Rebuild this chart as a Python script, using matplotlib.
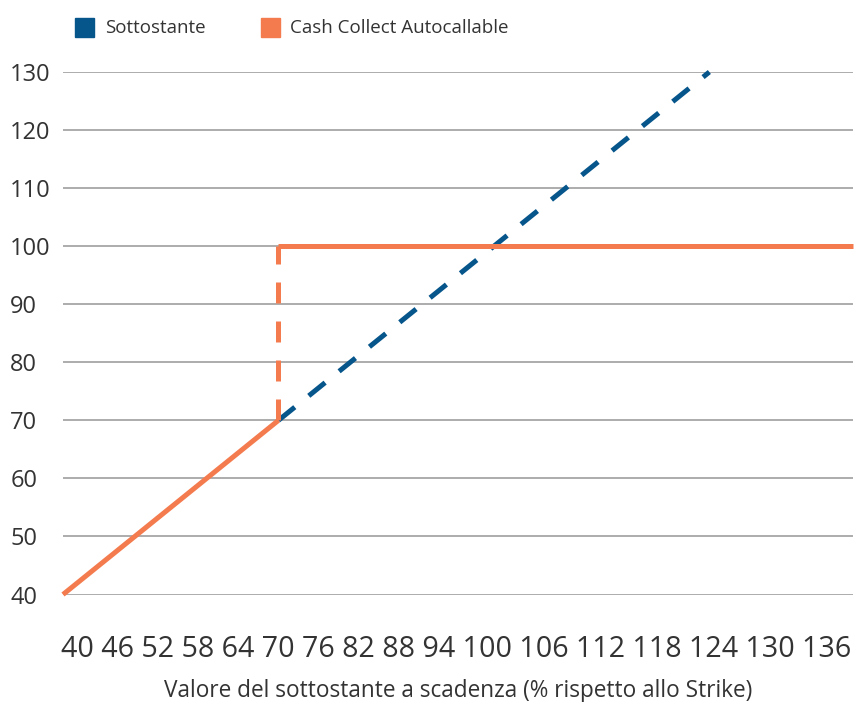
import numpy as np
import matplotlib
matplotlib.use("Agg")
import matplotlib.pyplot as plt
from matplotlib.patches import Rectangle

plt.rcParams['font.family'] = ['Open Sans', 'DejaVu Sans']

# payoff at maturity, as % of strike
x_low = [40, 70]
y_low = [40, 70]
x_barrier = [70, 70]
y_barrier = [70, 100]
x_cap = [70, 150]
y_cap = [100, 100]
x_under = [70, 130]
y_under = [70, 130]

series_names = ['Sottostante', 'Cash Collect Autocallable']
x_labels = [str(v) for v in range(40, 137, 6)]
y_ticks = list(range(40, 131, 10))

blue = '#06558B'
orange = '#F47B4E'
text_col = '#333333'
grid_col = '#A6A6A6'

W, H = 856, 702
fig = plt.figure(figsize=(W / 100, H / 100), dpi=100)
ax = fig.add_axes([63 / W, 1 - 594.5 / H, 790 / W, 522.5 / H])

for y in y_ticks:
    ax.axhline(y, color=grid_col, lw=1.3, zorder=1)

lw = 3.6
ax.plot(x_under, y_under, color=blue, lw=lw, dashes=(4.2, 3.6),
        dash_capstyle='butt', clip_on=False, zorder=3)
ax.plot(x_low, y_low, color=orange, lw=lw, solid_capstyle='butt',
        clip_on=False, zorder=4)
ax.plot(x_barrier, y_barrier, color=orange, lw=lw, dashes=(4.2, 3.6),
        dash_capstyle='butt', clip_on=False, zorder=4)
ax.plot(x_cap, y_cap, color=orange, lw=lw, solid_capstyle='butt',
        clip_on=False, zorder=4)

ax.set_xlim(40, 150)
ax.set_ylim(40, 130)
ax.set_yticks(y_ticks)
ax.set_yticklabels([str(v) for v in y_ticks])
ax.tick_params(axis='y', length=0, pad=38, labelsize=17, labelcolor=text_col)
for lab in ax.get_yticklabels():
    lab.set_horizontalalignment('left')
ax.set_xticks([])
for s in ax.spines.values():
    s.set_visible(False)

# category row under the plot, written as one spaced line
fig.text(61 / W, 1 - 657 / H, ' '.join(x_labels), fontsize=20.65,
         color=text_col, ha='left', va='baseline')
fig.text(458 / W, 1 - 697 / H,
         'Valore del sottostante a scadenza (% rispetto allo Strike)',
         fontsize=16.3, color=text_col, ha='center', va='baseline')

# legend: colour squares with names
for name, col, x0, tx in zip(series_names, [blue, orange], [75, 261], [105, 290]):
    fig.patches.append(Rectangle((x0 / W, 1 - 37 / H), 19 / W, 19 / H,
                                 transform=fig.transFigure, color=col))
    fig.text(tx / W, 1 - 28 / H, name, fontsize=13.5, color=text_col,
             ha='left', va='center')

fig.savefig('out.png', dpi=100)
